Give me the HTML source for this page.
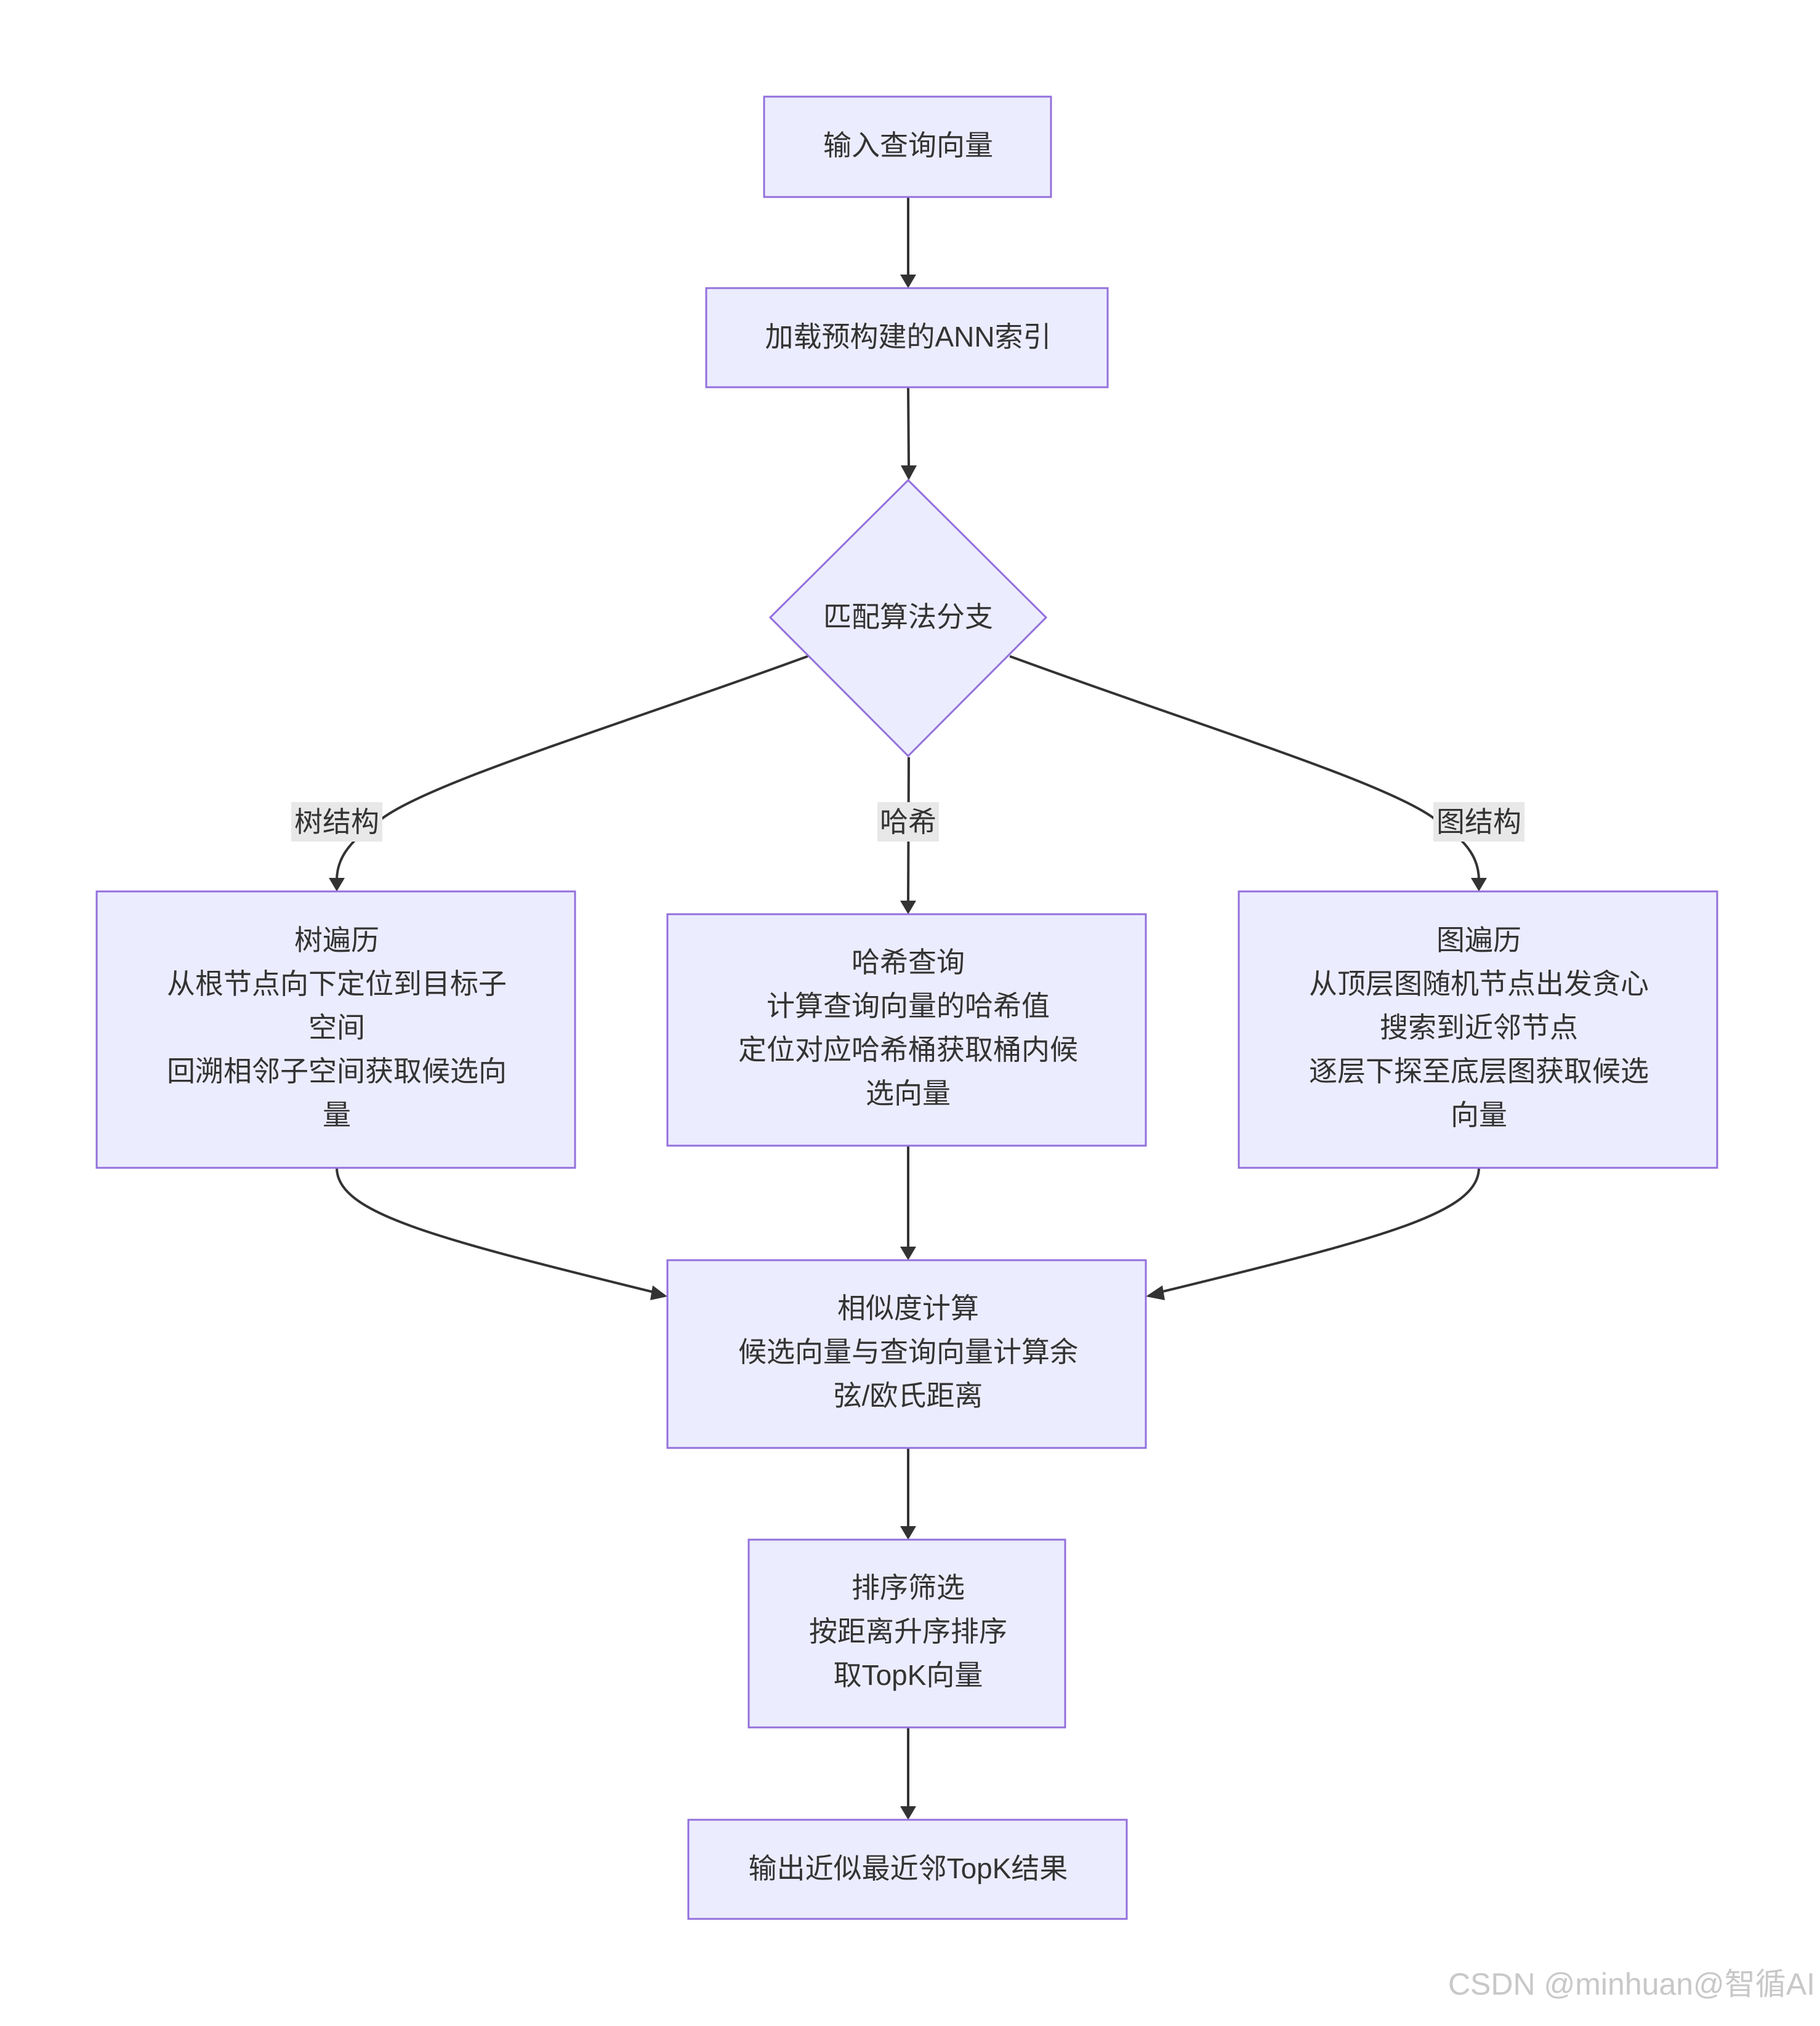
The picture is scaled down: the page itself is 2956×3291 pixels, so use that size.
<!DOCTYPE html>
<html><head><meta charset="utf-8"><style>
html,body{margin:0;padding:0;background:#fff;}
svg text{font-family:"Liberation Sans","Noto Sans CJK SC",sans-serif;fill:#333;font-size:46px;text-anchor:middle;}
</style></head><body>
<svg width="2956" height="3286" viewBox="0 0 2956 3286" xmlns="http://www.w3.org/2000/svg">
<defs><marker id="a" viewBox="0 0 10 10" refX="9" refY="5" markerWidth="6" markerHeight="6" orient="auto" markerUnits="userSpaceOnUse" style="overflow:visible">
<path d="M0,0 L10,5 L0,10 z" fill="#333" transform="scale(2.6) translate(-6,-5) translate(0,5) translate(0,-5)"/></marker></defs>
<g fill="none" stroke="#333" stroke-width="4">
<path d="M1475,320 L1475,446"/>
<path d="M1475,629 L1476,756"/>
<path d="M1312,1066 C1000,1180 700,1270 620,1330 C560,1370 547,1400 547,1430"/>
<path d="M1640,1066 C1950,1180 2250,1270 2330,1330 C2390,1370 2402,1400 2402,1430"/>
<path d="M1476,1230 L1475,1467"/>
<path d="M547,1897 C547,1970 700,2010 1066,2100"/>
<path d="M1475,1861 L1475,2029"/>
<path d="M2402,1897 C2402,1970 2250,2010 1880,2100"/>
<path d="M1475,2352 L1475,2483"/>
<path d="M1475,2806 L1475,2938"/>
</g>
<g fill="#333">
<path d="M1462,446 L1488,446 L1475,468 z"/>
<path d="M1463,756 L1489,756 L1476,780 z"/>
<path d="M534,1426 L560,1426 L547,1448 z"/>
<path d="M2389,1426 L2415,1426 L2402,1448 z"/>
<path d="M1462,1463 L1488,1463 L1475,1485 z"/>
<path d="M1462,2025 L1488,2025 L1475,2047 z"/>
<path d="M1462,2479 L1488,2479 L1475,2501 z"/>
<path d="M1462,2934 L1488,2934 L1475,2956 z"/>
<path d="M1060,2088 L1084,2106 L1056,2112 z"/>
<path d="M1888,2088 L1861,2106 L1892,2112 z"/>
</g>
<g fill="#ECECFF" stroke="#9370DB" stroke-width="3">
<rect x="1241" y="157" width="466" height="163"/>
<rect x="1147" y="468" width="652" height="161"/>
<path d="M1475,780 L1699,1003 L1475,1228 L1251,1003 z"/>
<rect x="157" y="1448" width="777" height="449"/>
<rect x="1084" y="1485" width="777" height="376"/>
<rect x="2012" y="1448" width="777" height="449"/>
<rect x="1084" y="2047" width="777" height="305"/>
<rect x="1216" y="2501" width="514" height="305"/>
<rect x="1118" y="2956" width="712" height="161"/>
</g>
<g fill="#e8e8e8">
<rect x="473" y="1303" width="148" height="64"/>
<rect x="1425" y="1303" width="100" height="64"/>
<rect x="2328" y="1303" width="148" height="64"/>
</g>
<text x="1475" y="252">输入查询向量</text>
<text x="1475" y="563">加载预构建的ANN索引</text>
<text x="1475" y="1018">匹配算法分支</text>
<text x="547" y="1351">树结构</text>
<text x="1475" y="1351">哈希</text>
<text x="2402" y="1351">图结构</text>
<text x="547" y="1543">树遍历</text>
<text x="547" y="1614">从根节点向下定位到目标子</text>
<text x="547" y="1685">空间</text>
<text x="547" y="1756">回溯相邻子空间获取候选向</text>
<text x="547" y="1827">量</text>
<text x="1475" y="1579">哈希查询</text>
<text x="1475" y="1650">计算查询向量的哈希值</text>
<text x="1475" y="1721">定位对应哈希桶获取桶内候</text>
<text x="1475" y="1792">选向量</text>
<text x="2402" y="1543">图遍历</text>
<text x="2402" y="1614">从顶层图随机节点出发贪心</text>
<text x="2402" y="1685">搜索到近邻节点</text>
<text x="2402" y="1756">逐层下探至底层图获取候选</text>
<text x="2402" y="1827">向量</text>
<text x="1475" y="2141">相似度计算</text>
<text x="1475" y="2212">候选向量与查询向量计算余</text>
<text x="1475" y="2283">弦/欧氏距离</text>
<text x="1475" y="2595">排序筛选</text>
<text x="1475" y="2666">按距离升序排序</text>
<text x="1475" y="2737">取TopK向量</text>
<text x="1475" y="3051">输出近似最近邻TopK结果</text>
<text x="2650" y="3240" style="fill:#c8c8c8;font-size:50px">CSDN @minhuan@智循AI</text>
</svg>
</body></html>
